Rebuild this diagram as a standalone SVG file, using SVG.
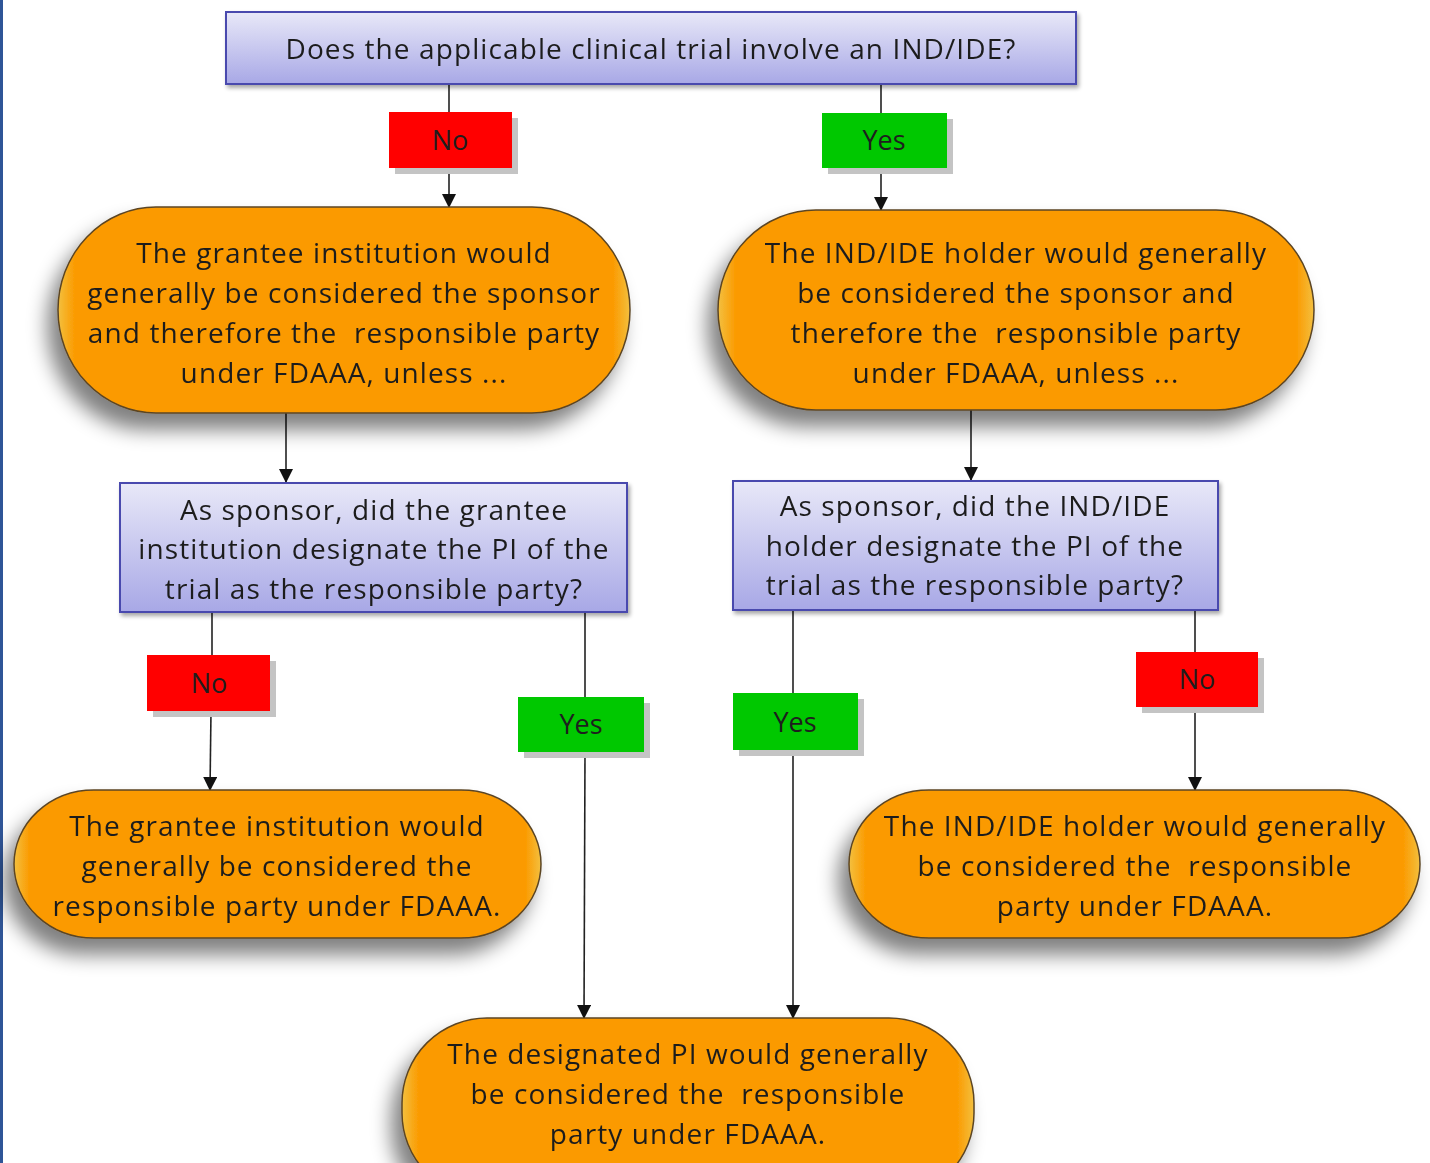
<svg xmlns="http://www.w3.org/2000/svg" width="1430" height="1163" viewBox="0 0 1430 1163" xml:space="preserve">
<defs>
  <style>
    text { font-family: "Open Sans", "Liberation Sans", Arial, sans-serif; fill: #1e1e1e; text-anchor: middle; dominant-baseline: central; white-space: pre; }
    .t { font-size: 28px; letter-spacing: 1.1px; }
    .q { font-size: 28px; letter-spacing: 1.1px; }
    .lbl { font-size: 27px; }
    .conn { stroke: #222; stroke-width: 1.6; fill: none; }
    .qbox { fill: url(#qgrad); stroke: #4a4aae; stroke-width: 2; }
    .term { fill: url(#ograd); stroke: #5b4524; stroke-width: 1.5; }
    .no { fill: #ff0000; }
    .yes { fill: #00c800; }
    .sh { fill: #c4c4c4; }
  </style>
  <linearGradient id="qgrad" x1="0" y1="0" x2="0" y2="1">
    <stop offset="0" stop-color="#e8e8f8"/>
    <stop offset="1" stop-color="#a8a8e6"/>
  </linearGradient>
  <linearGradient id="ograd" x1="0" y1="0" x2="1" y2="0">
    <stop offset="0" stop-color="#f3c040"/>
    <stop offset="0.03" stop-color="#fb9a00"/>
    <stop offset="0.97" stop-color="#fb9a00"/>
    <stop offset="1" stop-color="#f3c040"/>
  </linearGradient>
  <filter id="oshadow" x="-20%" y="-20%" width="140%" height="150%">
    <feGaussianBlur in="SourceAlpha" stdDeviation="10"/>
    <feOffset dx="-10" dy="16" result="b"/>
    <feComponentTransfer><feFuncA type="linear" slope="0.5"/></feComponentTransfer>
    <feMerge><feMergeNode/><feMergeNode in="SourceGraphic"/></feMerge>
  </filter>
  <filter id="qshadow" x="-10%" y="-10%" width="120%" height="130%">
    <feGaussianBlur in="SourceAlpha" stdDeviation="2"/>
    <feOffset dx="2" dy="3"/>
    <feComponentTransfer><feFuncA type="linear" slope="0.35"/></feComponentTransfer>
    <feMerge><feMergeNode/><feMergeNode in="SourceGraphic"/></feMerge>
  </filter>
  <marker id="arr" markerUnits="userSpaceOnUse" markerWidth="14" markerHeight="14" viewBox="0 0 14 14" refX="14" refY="7" orient="auto">
    <path d="M0,0 L14,7 L0,14 Z" fill="#111"/>
  </marker>
</defs>

<rect x="0" y="0" width="1430" height="1163" fill="#ffffff"/>
<line x1="1.5" y1="0" x2="1.5" y2="1163" stroke="#2f5597" stroke-width="3"/>

<g id="connectors">
  <line class="conn" x1="449" y1="84" x2="449" y2="112"/>
  <line class="conn" x1="449" y1="168" x2="449" y2="208" marker-end="url(#arr)"/>
  <line class="conn" x1="881" y1="84" x2="881" y2="113"/>
  <line class="conn" x1="881" y1="168" x2="881" y2="211" marker-end="url(#arr)"/>
  <line class="conn" x1="286" y1="413" x2="286" y2="483" marker-end="url(#arr)"/>
  <line class="conn" x1="971" y1="410" x2="971" y2="481" marker-end="url(#arr)"/>
  <line class="conn" x1="212" y1="612" x2="212" y2="655"/>
  <line class="conn" x1="211" y1="711" x2="210" y2="791" marker-end="url(#arr)"/>
  <line class="conn" x1="585" y1="612" x2="585" y2="697"/>
  <line class="conn" x1="585" y1="752" x2="584" y2="1019" marker-end="url(#arr)"/>
  <line class="conn" x1="793" y1="610" x2="793" y2="693"/>
  <line class="conn" x1="793" y1="750" x2="793" y2="1019" marker-end="url(#arr)"/>
  <line class="conn" x1="1195" y1="610" x2="1195" y2="652"/>
  <line class="conn" x1="1195" y1="707" x2="1195" y2="791" marker-end="url(#arr)"/>
</g>

<g id="q-top" filter="url(#qshadow)">
  <rect class="qbox" x="226" y="12" width="850" height="72"/>
  <text class="q" x="651" y="48">Does the applicable clinical trial involve an IND/IDE?</text>
</g>

<g id="label-no-1">
  <rect class="sh" x="395" y="118" width="123" height="56"/>
  <rect class="no" x="389" y="112" width="123" height="56"/>
  <text class="lbl" x="450" y="139">No</text>
</g>
<g id="label-yes-1">
  <rect class="sh" x="828" y="119" width="125" height="55"/>
  <rect class="yes" x="822" y="113" width="125" height="55"/>
  <text class="lbl" x="884" y="139">Yes</text>
</g>

<g id="grantee-sponsor" filter="url(#oshadow)">
  <rect class="term" x="58" y="207" width="572" height="206" rx="98" ry="103"/>
  <text class="t" x="344" y="252">The grantee institution would</text>
  <text class="t" x="344" y="292">generally be considered the sponsor</text>
  <text class="t" x="344" y="332">and therefore the  responsible party</text>
  <text class="t" x="344" y="372">under FDAAA, unless ...</text>
</g>

<g id="holder-sponsor" filter="url(#oshadow)">
  <rect class="term" x="718" y="210" width="596" height="200" rx="98" ry="100"/>
  <text class="t" x="1016" y="252">The IND/IDE holder would generally</text>
  <text class="t" x="1016" y="292">be considered the sponsor and</text>
  <text class="t" x="1016" y="332">therefore the  responsible party</text>
  <text class="t" x="1016" y="372">under FDAAA, unless ...</text>
</g>

<g id="q-grantee" filter="url(#qshadow)">
  <rect class="qbox" x="120" y="483" width="507" height="129"/>
  <text class="q" x="374" y="509">As sponsor, did the grantee</text>
  <text class="q" x="374" y="548">institution designate the PI of the</text>
  <text class="q" x="374" y="588">trial as the responsible party?</text>
</g>

<g id="q-holder" filter="url(#qshadow)">
  <rect class="qbox" x="733" y="481" width="485" height="129"/>
  <text class="q" x="975" y="505">As sponsor, did the IND/IDE</text>
  <text class="q" x="975" y="545">holder designate the PI of the</text>
  <text class="q" x="975" y="584">trial as the responsible party?</text>
</g>

<g id="label-no-2">
  <rect class="sh" x="153" y="661" width="123" height="56"/>
  <rect class="no" x="147" y="655" width="123" height="56"/>
  <text class="lbl" x="209" y="682">No</text>
</g>
<g id="label-yes-2">
  <rect class="sh" x="524" y="703" width="126" height="55"/>
  <rect class="yes" x="518" y="697" width="126" height="55"/>
  <text class="lbl" x="581" y="723">Yes</text>
</g>
<g id="label-yes-3">
  <rect class="sh" x="739" y="699" width="125" height="57"/>
  <rect class="yes" x="733" y="693" width="125" height="57"/>
  <text class="lbl" x="795" y="721">Yes</text>
</g>
<g id="label-no-3">
  <rect class="sh" x="1142" y="658" width="122" height="55"/>
  <rect class="no" x="1136" y="652" width="122" height="55"/>
  <text class="lbl" x="1197" y="678">No</text>
</g>

<g id="grantee-responsible" filter="url(#oshadow)">
  <rect class="term" x="14" y="790" width="527" height="148" rx="80" ry="74"/>
  <text class="t" x="277" y="825">The grantee institution would</text>
  <text class="t" x="277" y="865">generally be considered the</text>
  <text class="t" x="277" y="905">responsible party under FDAAA.</text>
</g>

<g id="holder-responsible" filter="url(#oshadow)">
  <rect class="term" x="849" y="790" width="571" height="148" rx="80" ry="74"/>
  <text class="t" x="1135" y="825">The IND/IDE holder would generally</text>
  <text class="t" x="1135" y="865">be considered the  responsible</text>
  <text class="t" x="1135" y="905">party under FDAAA.</text>
</g>

<g id="pi-responsible" filter="url(#oshadow)">
  <rect class="term" x="402" y="1018" width="572" height="180" rx="85" ry="85"/>
  <text class="t" x="688" y="1053">The designated PI would generally</text>
  <text class="t" x="688" y="1093">be considered the  responsible</text>
  <text class="t" x="688" y="1133">party under FDAAA.</text>
</g>
</svg>
